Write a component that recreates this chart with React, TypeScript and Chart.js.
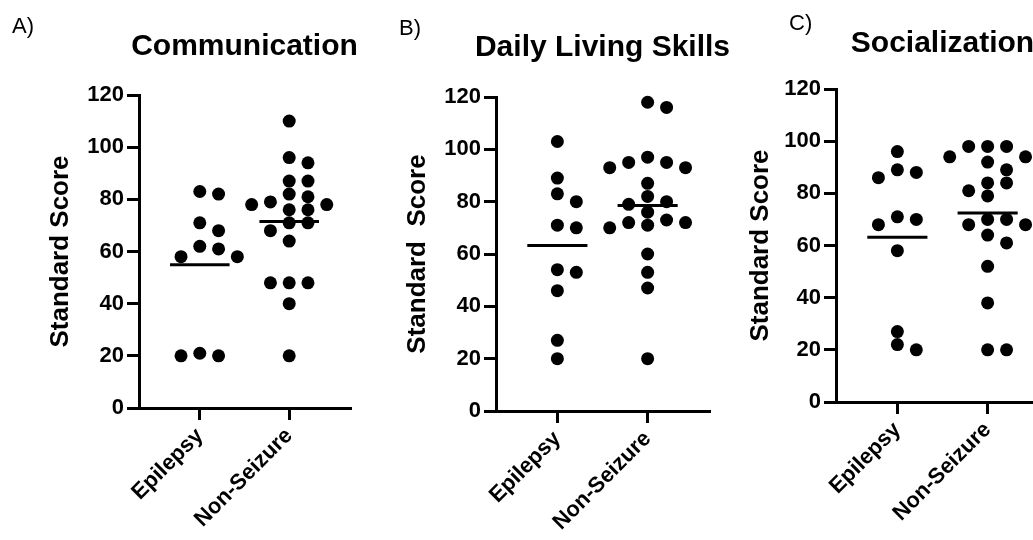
import React, { useEffect, useRef } from "react";
import { Chart, registerables } from "chart.js";

Chart.register(...registerables);

// ---------------- data ----------------
const groups = ["Epilepsy", "Non-Seizure"];
const yTickValues = [0, 20, 40, 60, 80, 100, 120];

const commEpilepsy = [83, 82, 71, 68, 62, 61, 58, 58, 21, 20, 20];
const commNonSeizure = [110, 96, 94, 87, 87, 82, 81, 79, 78, 78, 76, 76, 71, 71, 68, 64, 48, 48, 48, 40, 20];

const dlsEpilepsy = [103, 89, 83, 80, 71, 70, 54, 53, 46, 27, 20];
const dlsNonSeizure = [118, 116, 97, 95, 95, 93, 93, 87, 82, 80, 79, 76, 73, 72, 72, 71, 70, 60, 53, 47, 20];

const socEpilepsy = [96, 89, 88, 86, 71, 70, 68, 58, 27, 22, 20];
const socNonSeizure = [98, 98, 98, 94, 94, 92, 89, 84, 84, 81, 79, 70, 70, 68, 68, 64, 61, 52, 38, 20, 20];

const panelLetters = ["A)", "B)", "C)"];
const panelTitles = ["Communication", "Daily Living Skills", "Socialization"];
const yTitles = ["Standard Score", "Standard  Score", "Standard Score"];

const panelSeries = [
  [commEpilepsy, commNonSeizure],
  [dlsEpilepsy, dlsNonSeizure],
  [socEpilepsy, socNonSeizure],
];

// ---------------- layout / style ----------------
const FONT = "'Liberation Sans', Arial, Helvetica, sans-serif";
const H = 540;

const LAYOUT = [
  { canvasLeft: 0, canvasWidth: 370, axisLeft: 139, axisRight: 350, top: 95, bottom: 408, yTitleCenter: 61, letterX: 12, letterTop: 15, titleTop: 30 },
  { canvasLeft: 360, canvasWidth: 360, axisLeft: 496, axisRight: 709, top: 97, bottom: 411, yTitleCenter: 418, letterX: 399, letterTop: 17, titleTop: 31 },
  { canvasLeft: 720, canvasWidth: 345, axisLeft: 836, axisRight: 1049, top: 89, bottom: 402, yTitleCenter: 761, letterX: 789, letterTop: 12, titleTop: 27 },
];

const X_MIN = 0.32;
const X_MAX = 2.68;
const SWARM_STEP = 0.21; // category units between neighbouring dots
const MEAN_HALF = 0.333;

const TICK_SIZE = 22;
const CAT_SIZE = 22;
const YTITLE_SIZE = 26;
const TITLE_SIZE = 30;
const LETTER_SIZE = 22;

function swarm(values: number[], pxPerUnit: number, minGapPx: number): number[] {
  const order = values.map((_, i) => i).sort((a, b) => values[b] - values[a]);
  const cols: number[] = new Array(values.length).fill(0);
  const placed: { v: number; c: number }[] = [];
  for (const i of order) {
    const v = values[i];
    let k = 0;
    let done = false;
    while (!done) {
      const cands = k === 0 ? [0] : [k, -k];
      for (const c of cands) {
        const clash = placed.some((p) => p.c === c && Math.abs(p.v - v) * pxPerUnit < minGapPx);
        if (!clash) {
          cols[i] = c;
          placed.push({ v, c });
          done = true;
          break;
        }
      }
      k++;
    }
  }
  return cols.map((c) => c * SWARM_STEP);
}

const mean = (a: number[]) => a.reduce((s, v) => s + v, 0) / a.length;

function Panel({ idx }: { idx: number }) {
  const ref = useRef<HTMLCanvasElement | null>(null);
  const L = LAYOUT[idx];
  useEffect(() => {
    if (!ref.current) return;
    const pxPerUnit = (L.bottom - L.top) / 120;
    const [ep, ns] = panelSeries[idx];
    const epOff = swarm(ep, pxPerUnit, 10.5);
    const nsOff = swarm(ns, pxPerUnit, 10.5);
    const pointDs = (vals: number[], off: number[], cat: number) => ({
      type: "scatter" as const,
      data: vals.map((v, i) => ({ x: cat + off[i], y: v })),
      pointRadius: 6.5,
      pointHoverRadius: 6.5,
      backgroundColor: "#000",
      borderColor: "#000",
      borderWidth: 0,
      clip: false as const,
      order: 2,
    });
    const meanDs = (vals: number[], cat: number) => ({
      type: "line" as const,
      data: [
        { x: cat - MEAN_HALF, y: mean(vals) },
        { x: cat + MEAN_HALF, y: mean(vals) },
      ],
      borderColor: "#000",
      borderWidth: 3,
      pointRadius: 0,
      showLine: true,
      fill: false,
      clip: false as const,
      order: 1,
    });
    const gridCfg = {
      drawOnChartArea: false,
      drawTicks: true,
      tickLength: 12,
      color: "#000",
      lineWidth: 3,
    };
    const chart = new Chart(ref.current, {
      type: "scatter",
      data: {
        datasets: [pointDs(ep, epOff, 1), pointDs(ns, nsOff, 2), meanDs(ep, 1), meanDs(ns, 2)] as any,
      },
      options: {
        animation: false,
        responsive: false,
        maintainAspectRatio: false,
        events: [],
        layout: {
          padding: { left: 0, right: L.canvasWidth - (L.axisRight - L.canvasLeft), top: L.top, bottom: 0 },
        },
        plugins: {
          legend: { display: false },
          tooltip: { enabled: false },
          title: { display: false },
        },
        scales: {
          x: {
            type: "linear",
            min: X_MIN,
            max: X_MAX,
            afterFit: (s: any) => {
              s.height = H - L.bottom;
            },
            afterBuildTicks: (s: any) => {
              s.ticks = [{ value: 1 }, { value: 2 }];
            },
            ticks: {
              autoSkip: false,
              minRotation: 45,
              maxRotation: 45,
              padding: 3,
              color: "#000",
              font: { family: FONT, size: CAT_SIZE, weight: "bold" },
              callback: (v: any) => groups[Math.round(Number(v)) - 1] ?? "",
            },
            grid: gridCfg,
            border: { display: true, color: "#000", width: 3 },
          },
          y: {
            type: "linear",
            min: 0,
            max: 120,
            afterFit: (s: any) => {
              s.width = L.axisLeft - L.canvasLeft;
            },
            afterBuildTicks: (s: any) => {
              s.ticks = yTickValues.map((v) => ({ value: v }));
            },
            ticks: {
              padding: 3,
              color: "#000",
              font: { family: FONT, size: TICK_SIZE, weight: "bold" },
            },
            grid: gridCfg,
            border: { display: true, color: "#000", width: 3 },
            title: {
              display: true,
              text: yTitles[idx],
              color: "#000",
              font: { family: FONT, size: YTITLE_SIZE, weight: "bold" },
              padding: { top: L.yTitleCenter - L.canvasLeft - (YTITLE_SIZE * 1.2) / 2, bottom: 0 },
            },
          },
        },
      } as any,
    });
    return () => chart.destroy();
  }, [idx]);
  return (
    <canvas
      ref={ref}
      width={L.canvasWidth}
      height={H}
      style={{ position: "absolute", left: L.canvasLeft, top: 0, width: L.canvasWidth, height: H }}
    />
  );
}

export default function App() {
  return (
    <div
      style={{
        position: "absolute",
        left: 0,
        top: 0,
        width: 1033,
        height: H,
        overflow: "hidden",
        background: "#fff",
        fontFamily: FONT,
      }}
    >
      {LAYOUT.map((L, i) => (
        <Panel key={"p" + i} idx={i} />
      ))}
      {LAYOUT.map((L, i) => (
        <div
          key={"l" + i}
          style={{ position: "absolute", left: L.letterX, top: L.letterTop, fontSize: LETTER_SIZE, lineHeight: 1, color: "#000", whiteSpace: "nowrap" }}
        >
          {panelLetters[i]}
        </div>
      ))}
      {LAYOUT.map((L, i) => (
        <div
          key={"t" + i}
          style={{
            position: "absolute",
            left: (L.axisLeft + L.axisRight) / 2 - 200,
            width: 400,
            top: L.titleTop,
            textAlign: "center",
            fontSize: TITLE_SIZE,
            fontWeight: "bold",
            lineHeight: 1,
            color: "#000",
            whiteSpace: "nowrap",
          }}
        >
          {panelTitles[i]}
        </div>
      ))}
    </div>
  );
}
